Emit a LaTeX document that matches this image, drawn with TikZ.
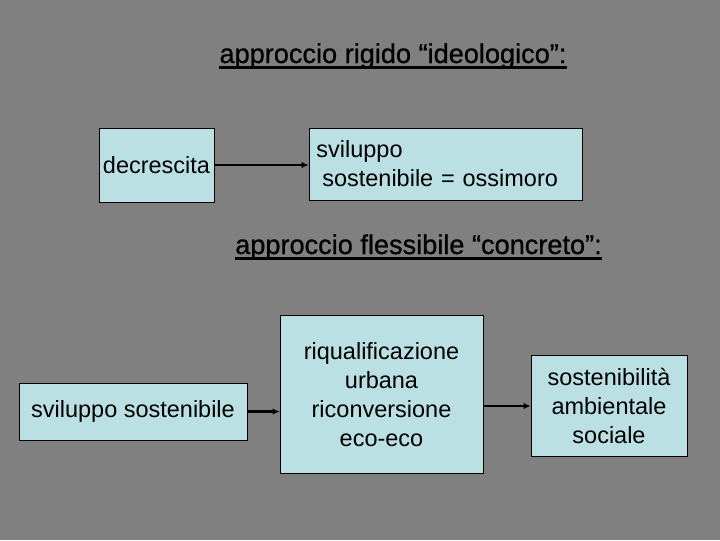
\documentclass[tikz,border=0pt]{standalone}
\usepackage{fontspec}
\setmainfont{Liberation Sans}
\newfontfamily\fonttitolo[BoldFont={Liberation Sans},BoldFeatures={FakeBold=0.8}]{Liberation Sans}
\usetikzlibrary{arrows.meta}
\definecolor{sfondo}{RGB}{128,128,128}
\definecolor{azzurro}{RGB}{187,224,228}
\tikzset{
  casella/.style={draw=black,fill=azzurro,inner sep=0pt,font=\fontsize{16.7}{20.5}\selectfont,align=center},
  freccia/.style={-{Latex[length=5pt,width=4.5pt]},line width=1.5pt},
  titolo/.style={inner sep=0pt,font=\fonttitolo\bfseries\fontsize{19.3}{23}\selectfont},
  sottolinea/.style={line width=1.5pt}
}
\begin{document}
\begin{tikzpicture}[x=0.025cm,y=-0.025cm]
%sfondo
\fill[sfondo](0,0)rectangle(720,540);
%approccio rigido
\node[titolo,anchor=base](t1)at(393,63){approccio rigido “ideologico”:};
\draw[sottolinea]([yshift=-3.2pt]t1.base west)--([yshift=-3.2pt]t1.base east);
\node[casella,minimum width=2.875cm,minimum height=1.85cm](dec)at(156.5,165){decrescita};
\node[casella,minimum width=6.825cm,minimum height=1.8cm,text width=6.45cm,align=left](oss)at(445.5,164){sviluppo\\\hspace{0.25em}sostenibile = ossimoro};
\draw[freccia](dec.east)--(dec.east-|oss.west);
%approccio flessibile
\node[titolo,anchor=base](t2)at(418.5,254){approccio flessibile “concreto”:};
\draw[sottolinea]([yshift=-3.2pt]t2.base west)--([yshift=-3.2pt]t2.base east);
\node[casella,minimum width=5.7cm,minimum height=1.425cm](svs)at(133,411.5){sviluppo sostenibile};
\node[casella,minimum width=5.075cm,minimum height=3.95cm](riq)at(381.5,394.5){riqualificazione\\urbana\\riconversione\\eco-eco};
\node[casella,minimum width=3.9cm,minimum height=2.525cm](sos)at(609,406){sostenibilità\\ambientale\\sociale};
\draw[freccia](svs.east)--(svs.east-|riq.west);
\draw[freccia](sos.west-|riq.east)--(sos.west);
\end{tikzpicture}
\end{document}
